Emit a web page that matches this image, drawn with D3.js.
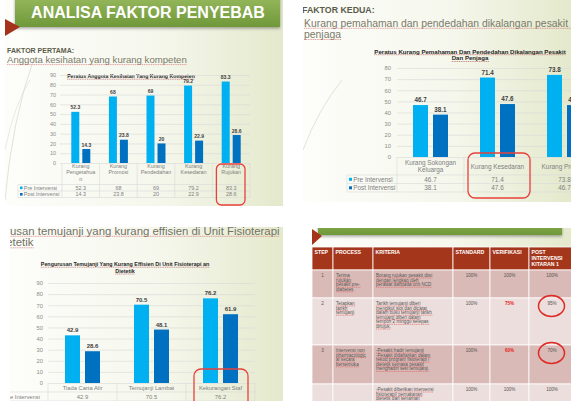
<!DOCTYPE html>
<html>
<head>
<meta charset="utf-8">
<script src="https://cdn.jsdelivr.net/npm/d3@7"></script>
<style>
  html, body { margin: 0; padding: 0; background: #fff; }
  svg { display: block; }
</style>
</head>
<body>
<div id="chart"></div>
<script>
// ---- data ----
const seriesNames = ['Pre Intervensi', 'Post Intervensi'];
const seriesColors = ['#00b0f0', '#0070c0'];

const f1Categories = ['Kurang\nPengetahua\nn', 'Kurang\nPromosi', 'Kurang\nPendedahan', 'Kurang\nKesedaran', 'Kurang\nRujukan'];
const f1Pre = [52.3, 68, 69, 79.2, 83.3];
const f1Post = [14.3, 23.8, 20, 22.9, 28.6];
const f1Ticks = [0, 10, 20, 30, 40, 50, 60, 70, 80, 90];

const f2Categories = ['Kurang Sokongan\nKeluarga', 'Kurang Kesedaran', 'Kurang Promosi'];
const f2Pre = [46.7, 71.4, 73.8];
const f2Post = [38.1, 47.6, 46.7];
const f2Ticks = [0, 10, 20, 30, 40, 50, 60, 70, 80];

const f3Categories = ['Tiada Carta Alir', 'Temujanji Lambat', 'Kekurangan Staf'];
const f3Pre = [42.9, 70.5, 76.2];
const f3Post = [28.6, 48.1, 61.9];
const f3Ticks = [0, 10, 20, 30, 40, 50, 60, 70, 80, 90];

const tableHeader = [['STEP'], ['PROCESS'], ['KRITERIA'], ['STANDARD'], ['VERIFIKASI'], ['POST', 'INTERVENSI', 'KITARAN 1']];
const tableStep = ['1', '2', '3', ''];
const tableProcess = [
  ['Terima', 'rujukan', 'pesakit pre-', 'diabetes'],
  ['Tetapkan', 'tarikh', 'temujanji'],
  ['Intervensi non', 'pharmacologic', 'al secara', 'bersemuka'],
  []
];
const tableKriteria = [
  ['Borang rujukan pesakit diisi', 'dengan lengkap oleh', 'perawat daripada unit NCD'],
  ['Tarikh temujanji diberi', 'mengikut slot dan dicatat', 'dalam buku temujanji tarikh', 'temujanji diberi dalam', 'tempoh 2 minggu selepas', 'dirujuk.'],
  ['-Pesakit hadir temujanji', '-Pesakit didaftarkan dalam', 'rekod program fisioterapi /', 'dietetik semasa pesakit', 'menghadiri sesi temujanji.'],
  ['-Pesakit diberikan intervensi', 'fisioterapi/ pemakanan', 'dietetik dan senaman']
];
const tableStandard = ['100%', '100%', '100%', '100%'];
const tableVerifikasi = ['100%', '75%', '60%', '100%'];
const tablePost = ['100%', '95%', '70%', '100%'];

// ---- layout ----
const FONT = "'Liberation Sans', Arial, sans-serif";
const W = 571, H = 401;

const svg = d3.select('#chart').append('svg')
  .attr('width', W).attr('height', H)
  .attr('viewBox', `0 0 ${W} ${H}`)
  .attr('font-family', FONT);
svg.append('rect').attr('width', W).attr('height', H).attr('fill', '#fff');

const defs = svg.append('defs');
const bg = defs.append('linearGradient').attr('id', 'slideBg');
bg.selectAll('stop')
  .data([[0, '#fdfdfa'], [0.55, '#f5f7ec'], [1, '#e4e9cc']])
  .enter().append('stop')
  .attr('offset', d => d[0]).attr('stop-color', d => d[1]);
const green = defs.append('linearGradient').attr('id', 'bannerGreen')
  .attr('x1', 0).attr('x2', 0).attr('y1', 0).attr('y2', 1);
green.selectAll('stop')
  .data([[0, '#9cbd62'], [1, '#6f9839']])
  .enter().append('stop')
  .attr('offset', d => d[0]).attr('stop-color', d => d[1]);
defs.append('filter').attr('id', 'shadow').attr('x', -0.1).attr('y', -0.5).attr('width', 1.2).attr('height', 2)
  .append('feDropShadow').attr('dx', 0).attr('dy', 1.5).attr('stdDeviation', 1.4).attr('flood-opacity', 0.35);

function panel(id, x, y, w, h) {
  defs.append('clipPath').attr('id', id)
    .append('rect').attr('x', x).attr('y', y).attr('width', w).attr('height', h);
  const g = svg.append('g').attr('clip-path', `url(#${id})`);
  g.append('rect').attr('x', x).attr('y', y).attr('width', w).attr('height', h).attr('fill', 'url(#slideBg)');
  return g;
}

function underline(g, textSel, color, dy) {
  textSel.each(function () {
    const b = this.getBBox();
    if (!b.width) return;
    const yy = +d3.select(this).attr('y') + dy;
    g.append('line')
      .attr('x1', b.x).attr('x2', b.x + b.width)
      .attr('y1', yy).attr('y2', yy)
      .attr('stroke', color).attr('stroke-width', 0.6)
      .attr('stroke-dasharray', '1.2 0.6');
  });
}

function barChart(g, o) {
  const x = d3.scaleBand().domain(o.categories).range(o.xRange);
  const y = d3.scaleLinear().domain([0, d3.max(o.ticks)]).range(o.yRange);
  const sub = d3.scaleBand().domain(seriesNames)
    .range([-(o.barW + o.gap / 2), o.barW + o.gap / 2])
    .paddingInner(o.gap / (o.barW + o.gap));
  const series = [o.pre, o.post];

  // title
  const t = g.selectAll(null).data(o.title).enter().append('text')
    .attr('x', o.titleX).attr('y', (d, i) => o.titleY + i * o.titleLH)
    .attr('text-anchor', 'middle').attr('font-size', o.titleFs).attr('font-weight', 'bold')
    .attr('fill', '#262626').text(d => d);
  underline(g, t, '#b05050', 1.2);

  // grid and y labels
  const axis = g.append('g')
    .attr('transform', `translate(${o.gridX[0]},0)`)
    .call(d3.axisLeft(y).tickValues(o.ticks).tickSize(-(o.gridX[1] - o.gridX[0])).tickPadding(o.tickPad));
  axis.attr('font-family', null).attr('font-size', null);
  axis.select('.domain').remove();
  axis.selectAll('.tick line').attr('stroke', '#d9d9d9').attr('stroke-width', 0.6);
  axis.selectAll('.tick text').attr('fill', '#8c8c8c').attr('font-size', o.tickFs);

  // bars
  const groups = g.selectAll(null).data(o.categories).enter().append('g')
    .attr('transform', d => `translate(${x(d) + x.bandwidth() / 2},0)`);
  const cells = (d, i) => seriesNames.map((s, j) => ({ s, v: series[j][i], c: seriesColors[j] }));
  groups.selectAll('rect').data(cells).enter().append('rect')
    .attr('x', d => sub(d.s)).attr('width', sub.bandwidth())
    .attr('y', d => y(d.v)).attr('height', d => y(0) - y(d.v))
    .attr('fill', d => d.c);
  groups.selectAll('text').data(cells).enter().append('text')
    .attr('x', d => sub(d.s) + sub.bandwidth() / 2).attr('y', d => y(d.v) - o.valGap)
    .attr('text-anchor', 'middle').attr('font-size', o.valFs).attr('font-weight', 'bold')
    .attr('fill', '#404040').text(d => d.v);

  // data table
  const rows = o.rowLines;
  const last = rows[rows.length - 1];
  const edges = o.categories.map(c => x(c)).concat([o.xRange[1]]);
  g.selectAll(null).data(edges).enter().append('line')
    .attr('x1', d => d).attr('x2', d => d).attr('y1', y(0)).attr('y2', last)
    .attr('stroke', '#d9d9d9').attr('stroke-width', 0.6);
  g.append('line').attr('x1', o.legendX).attr('x2', o.legendX).attr('y1', rows[0]).attr('y2', last)
    .attr('stroke', '#d9d9d9').attr('stroke-width', 0.6);
  g.selectAll(null).data(rows).enter().append('line')
    .attr('x1', o.legendX).attr('x2', o.xRange[1]).attr('y1', d => d).attr('y2', d => d)
    .attr('stroke', '#d9d9d9').attr('stroke-width', 0.6);

  const maxLines = d3.max(o.categories, c => c.split('\n').length);
  const cat = g.selectAll(null).data(o.categories).enter().append('text')
    .attr('text-anchor', 'middle').attr('font-size', o.catFs).attr('fill', '#7f7f7f');
  cat.each(function (d) {
    const lines = d.split('\n');
    const top = o.catTop + (o.catMiddle ? (maxLines - lines.length) * o.catLH / 2 : 0);
    d3.select(this).selectAll('tspan').data(lines).enter().append('tspan')
      .attr('x', x(d) + x.bandwidth() / 2).attr('y', (l, i) => top + i * o.catLH)
      .attr('dy', '0.35em').text(l => l);
  });

  o.rowY.forEach((cy, j) => {
    g.append('rect').attr('x', o.legendX + o.sqPad).attr('y', cy - o.sq / 2)
      .attr('width', o.sq).attr('height', o.sq).attr('fill', seriesColors[j]);
    g.append('text').attr('x', o.legendX + o.sqPad + o.sq + 1.2).attr('y', cy).attr('dy', '0.35em')
      .attr('font-size', o.catFs).attr('fill', '#7f7f7f').text(seriesNames[j]);
    g.selectAll(null).data(o.categories).enter().append('text')
      .attr('x', d => x(d) + x.bandwidth() / 2).attr('y', cy).attr('dy', '0.35em')
      .attr('text-anchor', 'middle').attr('font-size', o.catFs).attr('fill', '#7f7f7f')
      .text((d, i) => series[j][i]);
  });

  // red annotation box
  const h = o.highlight;
  g.append('rect')
    .attr('x', x(o.categories[h.index]) + h.inset[0])
    .attr('width', x.bandwidth() - h.inset[0] - h.inset[1])
    .attr('y', y(0) - h.above).attr('height', h.height)
    .attr('rx', h.r).attr('fill', 'none')
    .attr('stroke', '#e8413b').attr('stroke-width', 1.3);
}

// ---- panel 1: faktor pertama ----
const p1 = panel('p1', 5, 0, 278, 206);
p1.append('path').attr('d', 'M5,200 Q12,120 34,58').attr('fill', 'none').attr('stroke', '#cfd2c0').attr('stroke-width', 0.6);
p1.append('path').attr('d', 'M5,150 Q14,105 30,80').attr('fill', 'none').attr('stroke', '#d6d8c8').attr('stroke-width', 0.5);
p1.append('rect').attr('x', 15).attr('y', -8).attr('width', 265).attr('height', 35)
  .attr('fill', 'url(#bannerGreen)').attr('filter', 'url(#shadow)');
p1.append('text').attr('x', 148).attr('y', 17.5).attr('text-anchor', 'middle')
  .attr('font-size', 16).attr('font-weight', 'bold').attr('fill', '#fff')
  .text('ANALISA FAKTOR PENYEBAB');
p1.append('path').attr('d', 'M5,19 L20,27 L5,36 Z').attr('fill', '#a5321a');
p1.append('text').attr('x', 7).attr('y', 52.5).attr('font-size', 7).attr('font-weight', 'bold')
  .attr('fill', '#5b5b4a').text('FAKTOR PERTAMA:');
const s1 = p1.append('text').attr('x', 7).attr('y', 63).attr('font-size', 9.6).attr('fill', '#7a7a6a')
  .text('Anggota kesihatan yang kurang kompeten');
underline(p1, s1, '#d06a6a', 1.6);

barChart(p1, {
  categories: f1Categories, pre: f1Pre, post: f1Post, ticks: f1Ticks,
  xRange: [62, 250], yRange: [163, 75], gridX: [60, 250], tickPad: 4, tickFs: 5.5,
  barW: 8, gap: 3, valFs: 5, valGap: 2.5,
  title: ['Peratus Anggota Kesihatan Yang Kurang Kompeten'], titleX: 131, titleY: 78, titleLH: 7, titleFs: 5.2,
  rowLines: [184.5, 191, 197.5], rowY: [187.8, 194.3], legendX: 18, sqPad: 2, sq: 2.6,
  catTop: 166, catLH: 6.6, catFs: 5.4, catMiddle: false,
  highlight: { index: 4, inset: [4, 5], above: -1, height: 41, r: 5 }
});

// ---- panel 2: faktor kedua ----
const p2 = panel('p2', 303, 0, 268, 202);
p2.append('path').attr('d', 'M303,150 Q318,110 342,80').attr('fill', 'none').attr('stroke', '#cfd2c0').attr('stroke-width', 0.6);
p2.append('text').attr('x', 302).attr('y', 12.8).attr('font-size', 8.8).attr('font-weight', 'bold')
  .attr('fill', '#5b5b4a').text('FAKTOR KEDUA:');
const s2 = p2.selectAll(null)
  .data(['Kurang pemahaman dan pendedahan dikalangan pesakit dan', 'penjaga'])
  .enter().append('text')
  .attr('x', 304).attr('y', (d, i) => 26.5 + i * 11.2).attr('font-size', 10.4).attr('fill', '#7a7a6a')
  .text(d => d);
underline(p2, s2, '#d06a6a', 1.8);

barChart(p2, {
  categories: f2Categories, pre: f2Pre, post: f2Post, ticks: f2Ticks,
  xRange: [397, 598], yRange: [157, 68], gridX: [397, 600], tickPad: 6, tickFs: 5.8,
  barW: 15, gap: 5, valFs: 6.3, valGap: 3,
  title: ['Peratus Kurang Pemahaman Dan Pendedahan Dikalangan Pesakit', 'Dan Penjaga'], titleX: 470, titleY: 53.5, titleLH: 6.8, titleFs: 6.1,
  rowLines: [175, 183.5, 192], rowY: [179.3, 187.8], legendX: 347, sqPad: 2, sq: 3,
  catTop: 163, catLH: 7, catFs: 6.4, catMiddle: true,
  highlight: { index: 1, inset: [4, 1], above: 4, height: 45, r: 7 }
});

// ---- panel 3: pengurusan temujanji ----
const p3 = panel('p3', 10, 227, 273, 174);
const s3 = p3.selectAll(null)
  .data(['Pengurusan temujanji yang kurang effisien di Unit Fisioterapi', 'dan Dietetik'])
  .enter().append('text')
  .attr('y', (d, i) => 234.5 + i * 11.5).attr('font-size', 11.4).attr('fill', '#727264')
  .text(d => d);
const cut = s3.node().getSubStringLength(0, 6);
s3.attr('x', 10 - cut);
underline(p3, s3, '#d06a6a', 1.8);

barChart(p3, {
  categories: f3Categories, pre: f3Pre, post: f3Post, ticks: f3Ticks,
  xRange: [48, 255], yRange: [383, 283], gridX: [48, 255], tickPad: 5, tickFs: 5.8,
  barW: 15, gap: 5, valFs: 6, valGap: 3,
  title: ['Pengurusan Temujanji Yang Kurang Effisien Di Unit Fisioterapi an', 'Dietetik'], titleX: 125, titleY: 266, titleLH: 6.8, titleFs: 5.4,
  rowLines: [392, 401], rowY: [397], legendX: -2, sqPad: 2, sq: 3,
  catTop: 387.5, catLH: 7, catFs: 5.8, catMiddle: false,
  highlight: { index: 2, inset: [8, 7], above: 14, height: 40, r: 7 }
});

// ---- panel 4: process table ----
const p4 = panel('p4', 312, 228, 259, 173);
p4.append('rect').attr('x', 318).attr('y', 210).attr('width', 244).attr('height', 25)
  .attr('fill', 'url(#bannerGreen)').attr('filter', 'url(#shadow)');
p4.append('path').attr('d', 'M312,229 L322,236 L312,245 Z').attr('fill', '#a5321a');

const colWidths = [21, 40, 80, 37, 39, 46];
const rowHeights = [23, 28, 47, 39, 30];
const colX = [312, ...Array.from(d3.cumsum(colWidths), v => 312 + v)];
const rowY = [247, ...Array.from(d3.cumsum(rowHeights), v => 247 + v)];
const rowFill = ['#a4361b', '#d9bab6', '#ecdedc', '#d9bab6', '#ecdedc'];

const bodyRows = tableStep.map((s, i) => [[s], tableProcess[i], tableKriteria[i], [tableStandard[i]], [tableVerifikasi[i]], [tablePost[i]]]);
const allRows = [tableHeader].concat(bodyRows);
const align = ['middle', 'start', 'start', 'middle', 'middle', 'middle'];

allRows.forEach((row, r) => {
  row.forEach((lines, c) => {
    p4.append('rect')
      .attr('x', colX[c]).attr('y', rowY[r])
      .attr('width', colX[c + 1] - colX[c]).attr('height', rowY[r + 1] - rowY[r])
      .attr('fill', rowFill[r]).attr('stroke', '#fff').attr('stroke-width', 0.8);
  });
});
allRows.forEach((row, r) => {
  row.forEach((lines, c) => {
    const header = r === 0;
    const anchor = header ? 'start' : align[c];
    const tx = anchor === 'middle' ? (colX[c] + colX[c + 1]) / 2 : colX[c] + (header ? 2.5 : 3);
    const red = c === 4 && !header && lines[0] !== '100%';
    const txt = p4.selectAll(null).data(lines.filter(l => l)).enter().append('text')
      .attr('x', tx).attr('y', (d, i) => rowY[r] + (header ? 6.8 : 7) + i * (header ? 6 : 4.6))
      .attr('text-anchor', anchor)
      .attr('font-size', header ? 5.2 : 4.6)
      .attr('font-weight', header || red ? 'bold' : 'normal')
      .attr('fill', header ? '#fff' : red ? '#e8241c' : '#555')
      .text(d => d);
    if (!header && (c === 1 || c === 2)) underline(p4, txt, '#e05a5a', 1);
  });
});

// red circles around post-intervention values
const circled = tablePost.map((v, i) => ({ v, i })).filter(d => d.v !== '100%');
p4.selectAll(null).data(circled).enter().append('ellipse')
  .attr('cx', (colX[5] + colX[6]) / 2 - 0.5)
  .attr('cy', d => rowY[d.i + 1] + 8)
  .attr('rx', 13).attr('ry', 10.5)
  .attr('fill', 'none').attr('stroke', '#e02a25').attr('stroke-width', 1.5);
</script>
</body>
</html>
